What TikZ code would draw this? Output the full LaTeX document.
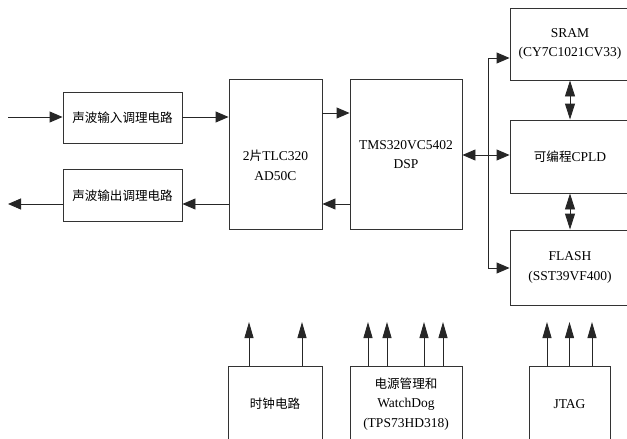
\documentclass[tikz,border=0pt]{standalone}
\usepackage{fontspec}
\setmainfont{Liberation Serif}
\newfontfamily\cjk[Scale=0.93]{Noto Sans CJK SC}
\usetikzlibrary{arrows.meta}
\begin{document}
\begin{tikzpicture}[x=1pt,y=-1pt,
  box/.style={draw=black!80, line width=0.9pt, fill=white, inner sep=0pt, align=center,
    font=\fontsize{13.5}{19.5}\selectfont},
  lbl/.style={inner sep=0pt, align=center, font=\fontsize{13.5}{19.5}\selectfont},
  arr/.style={draw=black!85, line width=0.9pt, -{Triangle[length=13pt,width=11pt]}},
  uarr/.style={draw=black!85, line width=0.9pt, -{Triangle[length=16pt,width=9pt]}},
  darr/.style={draw=black!85, line width=0.9pt, {Triangle[length=16pt,width=10pt]}-{Triangle[length=16pt,width=10pt]}},
  ln/.style={draw=black!85, line width=0.9pt}]
\useasboundingbox (0,0) rectangle (627,439);
\clip (0,0) rectangle (627,439);
% left column
\node[box, minimum width=119pt, minimum height=51pt] (in) at (122.5,117.5) {{\cjk 声波输入调理电路}};
\node[box, minimum width=119pt, minimum height=52pt] (out) at (122.5,195.5) {{\cjk 声波输出调理电路}};
% codec and DSP
\node[box, minimum width=93pt, minimum height=150pt] (ad) at (275.5,154.5) {};
\node[lbl] (adtext) at (275.5,165.5) {2{\cjk 片}TLC320\\AD50C};
\node[box, minimum width=112pt, minimum height=150pt] (dsp) at (406,154.5) {TMS320VC5402\\DSP};
% right column
\node[box, minimum width=120pt, minimum height=72pt] (sram) at (570,44) {SRAM\\(CY7C1021CV33)};
\node[box, minimum width=120pt, minimum height=73pt] (cpld) at (570,156.5) {{\cjk 可编程}CPLD};
\node[box, minimum width=120pt, minimum height=75pt] (flash) at (570,267.5) {FLASH\\(SST39VF400)};
% bottom row
\node[box, minimum width=94pt, minimum height=76pt] (clk) at (275,404) {{\cjk 时钟电路}};
\node[box, minimum width=112pt, minimum height=76pt] (pwr) at (406,404) {{\cjk 电源管理和}\\WatchDog\\(TPS73HD318)};
\node[box, minimum width=81pt, minimum height=76pt] (jtag) at (569.5,404) {JTAG};
% coordinates
\coordinate (src) at (8,117);
\coordinate (snk) at (8,204);
\coordinate (bt) at (488,58);
\coordinate (bm) at (488,155);
\coordinate (bb) at (488,268);
% left connections
\draw[arr] (src) -- (in.west |- src);
\draw[arr] (in.east |- src) -- (ad.west |- src);
\draw[arr] (out.west |- snk) -- (snk);
\draw[arr] (ad.west |- snk) -- (out.east |- snk);
\draw[arr] (ad.east |- 0,113) -- (dsp.west |- 0,113);
\draw[arr] (dsp.west |- snk) -- (ad.east |- snk);
% bus
\draw[ln] (bt) -- (bb);
\draw[arr] (bt) -- (sram.west |- bt);
\draw[arr] (bm) -- (dsp.east |- bm);
\draw[arr] (bm) -- (cpld.west |- bm);
\draw[arr] (bb) -- (flash.west |- bb);
\draw[darr] (sram.south) -- (cpld.north);
\draw[darr] (cpld.south) -- (flash.north);
% bottom arrows
\draw[uarr] (clk.north -| 249,0) -- (249,322);
\draw[uarr] (clk.north -| 302,0) -- (302,322);
\draw[uarr] (pwr.north -| 368,0) -- (368,322);
\draw[uarr] (pwr.north -| 387,0) -- (387,322);
\draw[uarr] (pwr.north -| 424,0) -- (424,322);
\draw[uarr] (pwr.north -| 443,0) -- (443,322);
\draw[uarr] (jtag.north -| 547,0) -- (547,322);
\draw[uarr] (jtag.north -| 569.5,0) -- (569.5,322);
\draw[uarr] (jtag.north -| 592,0) -- (592,322);
\end{tikzpicture}
\end{document}
